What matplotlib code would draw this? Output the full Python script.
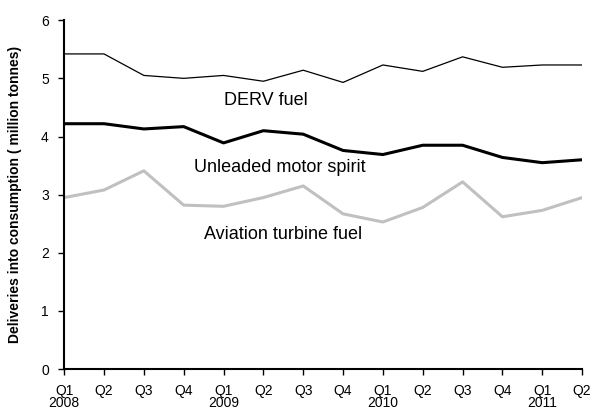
import matplotlib
matplotlib.use("Agg")
import matplotlib.pyplot as plt
import numpy as np

plt.rcParams['font.family'] = ['Liberation Sans', 'DejaVu Sans']

# quarterly deliveries, Q1 2008 - Q2 2011 (million tonnes)
quarters = ["Q1\n2008", "Q2", "Q3", "Q4", "Q1\n2009", "Q2", "Q3", "Q4",
            "Q1\n2010", "Q2", "Q3", "Q4", "Q1\n2011", "Q2"]
derv = [5.42, 5.42, 5.05, 5.00, 5.05, 4.95, 5.14, 4.93, 5.23, 5.12, 5.37, 5.19, 5.23, 5.23]
unleaded = [4.22, 4.22, 4.13, 4.17, 3.89, 4.10, 4.04, 3.76, 3.69, 3.85, 3.85, 3.64, 3.55, 3.60]
aviation = [2.95, 3.08, 3.41, 2.82, 2.80, 2.95, 3.15, 2.67, 2.53, 2.78, 3.22, 2.62, 2.73, 2.95]

x = np.arange(len(quarters))

fig = plt.figure(figsize=(5.94, 4.12), dpi=100)
ax = fig.add_axes([0.108, 0.104, 0.872, 0.847])

ax.plot(x, derv, color="black", lw=0.9)
ax.plot(x, unleaded, color="black", lw=2.2)
ax.plot(x, aviation, color="#c0c0c0", lw=2.2)

# series labels
ax.text(4.0, 4.62, "DERV fuel", fontsize=13, va="center")
ax.text(3.25, 3.47, "Unleaded motor spirit", fontsize=13, va="center")
ax.text(3.5, 2.32, "Aviation turbine fuel", fontsize=13, va="center")

ax.set_xlim(0, len(quarters) - 1)
ax.set_ylim(0, 6)
ax.set_xticks(x)
ax.set_xticklabels(quarters, fontsize=10, linespacing=0.8)
ax.set_yticks(range(0, 7))
ax.tick_params(axis="y", labelsize=10, direction="out", length=4, width=1, pad=7)
ax.tick_params(axis="x", direction="out", length=4, width=1, pad=7)
ax.set_ylabel("Deliveries into consumption ( million tonnes)", fontsize=10, fontweight="bold", labelpad=14)

ax.spines["top"].set_visible(False)
ax.spines["right"].set_visible(False)
ax.spines["left"].set_linewidth(1.5)
ax.spines["bottom"].set_linewidth(1.5)

fig.savefig("out.png", dpi=100)
